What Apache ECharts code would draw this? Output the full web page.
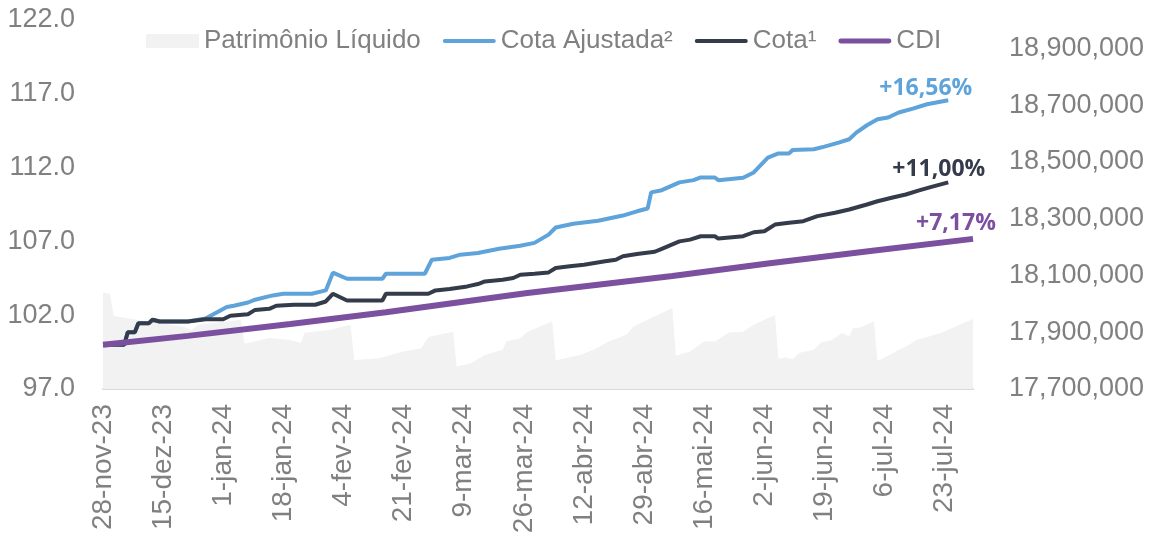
<!DOCTYPE html>
<html>
<head>
<meta charset="utf-8">
<script src="https://cdn.jsdelivr.net/npm/echarts@6/dist/echarts.min.js"></script>
<style>
  html, body { margin: 0; padding: 0; background: #fff; }
  #chart { width: 1154px; height: 539px; }
</style>
</head>
<body>
<div id="chart"></div>
<script>
// eixo X: datas rotuladas
const xTickDates = ['2023-11-28', '2023-12-15', '2024-01-01', '2024-01-18', '2024-02-04', '2024-02-21',
  '2024-03-09', '2024-03-26', '2024-04-12', '2024-04-29', '2024-05-16', '2024-06-02', '2024-06-19',
  '2024-07-06', '2024-07-23']
const leftTicks = [97, 102, 107, 112, 117, 122]
const rightTicks = [17700000, 17900000, 18100000, 18300000, 18500000, 18700000, 18900000]

// Cota¹
const cotaDates = ['2023-11-28', '2023-12-04', '2023-12-05', '2023-12-07', '2023-12-08', '2023-12-11',
  '2023-12-12', '2023-12-14', '2023-12-22', '2023-12-27', '2024-01-01', '2024-01-03', '2024-01-08',
  '2024-01-10', '2024-01-14', '2024-01-16', '2024-01-21', '2024-01-27', '2024-01-30', '2024-02-01',
  '2024-02-05', '2024-02-15', '2024-02-16', '2024-02-28', '2024-03-01', '2024-03-05', '2024-03-10',
  '2024-03-13', '2024-03-15', '2024-03-20', '2024-03-23', '2024-03-25', '2024-03-29', '2024-04-02',
  '2024-04-04', '2024-04-08', '2024-04-12', '2024-04-18', '2024-04-21', '2024-04-23', '2024-04-27',
  '2024-05-02', '2024-05-04', '2024-05-09', '2024-05-12', '2024-05-15', '2024-05-19', '2024-05-20',
  '2024-05-27', '2024-05-30', '2024-06-02', '2024-06-05', '2024-06-09', '2024-06-13', '2024-06-17',
  '2024-06-22', '2024-06-26', '2024-07-01', '2024-07-04', '2024-07-08', '2024-07-12', '2024-07-16',
  '2024-07-19', '2024-07-24']
const cotaValues = [100.0, 100.0, 100.85, 100.85, 101.46, 101.46,
  101.69, 101.57, 101.57, 101.73, 101.73, 101.96, 102.07,
  102.36, 102.43, 102.64, 102.71, 102.71, 102.93, 103.45,
  103.0, 103.0, 103.45, 103.45, 103.68, 103.77, 103.95,
  104.11, 104.29, 104.4, 104.52, 104.74, 104.81, 104.9,
  105.2, 105.31, 105.42, 105.65, 105.76, 105.99, 106.15,
  106.3, 106.5, 107.0, 107.12, 107.35, 107.35, 107.19,
  107.35, 107.62, 107.69, 108.14, 108.26, 108.37, 108.71,
  108.94, 109.16, 109.5, 109.72, 109.96, 110.18, 110.47,
  110.68, 111.0]

// Cota Ajustada²
const ajustDates = ['2023-11-28', '2023-12-04', '2023-12-05', '2023-12-07', '2023-12-08', '2023-12-11',
  '2023-12-12', '2023-12-14', '2023-12-22', '2023-12-27', '2024-01-02', '2024-01-04', '2024-01-08',
  '2024-01-10', '2024-01-15', '2024-01-18', '2024-01-26', '2024-01-30', '2024-02-01', '2024-02-05',
  '2024-02-15', '2024-02-16', '2024-02-27', '2024-02-29', '2024-03-05', '2024-03-08', '2024-03-13',
  '2024-03-19', '2024-03-25', '2024-03-29', '2024-04-02', '2024-04-04', '2024-04-09', '2024-04-16',
  '2024-04-23', '2024-04-27', '2024-04-30', '2024-05-01', '2024-05-04', '2024-05-09', '2024-05-13',
  '2024-05-15', '2024-05-19', '2024-05-20', '2024-05-27', '2024-05-30', '2024-06-03', '2024-06-06',
  '2024-06-09', '2024-06-10', '2024-06-16', '2024-06-19', '2024-06-23', '2024-06-26', '2024-06-28',
  '2024-07-01', '2024-07-04', '2024-07-07', '2024-07-10', '2024-07-14', '2024-07-18', '2024-07-24']
const ajustValues = [100.0, 100.0, 100.85, 100.85, 101.46, 101.46,
  101.69, 101.57, 101.57, 101.78, 102.55, 102.64, 102.86,
  103.05, 103.34, 103.45, 103.45, 103.68, 104.88, 104.47,
  104.47, 104.81, 104.81, 105.76, 105.88, 106.1, 106.22,
  106.5, 106.7, 106.9, 107.46, 107.94, 108.2, 108.4,
  108.75, 109.04, 109.23, 110.32, 110.47, 111.0, 111.15,
  111.33, 111.33, 111.15, 111.31, 111.67, 112.67, 112.96,
  112.96, 113.19, 113.24, 113.42, 113.69, 113.92, 114.37,
  114.87, 115.27, 115.39, 115.73, 116.0, 116.29, 116.56]

// CDI
const cdiDates = ['2023-11-28', '2023-12-22', '2024-01-20', '2024-02-16', '2024-03-27', '2024-05-07',
  '2024-06-03', '2024-07-02', '2024-07-31']
const cdiValues = [100.0, 100.6, 101.4, 102.2, 103.5, 104.65, 105.5, 106.35, 107.17]

// Patrimônio Líquido (eixo direito)
const plDates = ['2023-11-28', '2023-11-30', '2023-12-01', '2023-12-04', '2023-12-11', '2023-12-21',
  '2023-12-23', '2023-12-25', '2024-01-06', '2024-01-07', '2024-01-14', '2024-01-20', '2024-01-23',
  '2024-01-24', '2024-01-31', '2024-02-06', '2024-02-07', '2024-02-14', '2024-02-21', '2024-02-26',
  '2024-02-28', '2024-03-06', '2024-03-07', '2024-03-11', '2024-03-15', '2024-03-20', '2024-03-21',
  '2024-03-25', '2024-03-27', '2024-04-03', '2024-04-04', '2024-04-11', '2024-04-15', '2024-04-19',
  '2024-04-24', '2024-04-26', '2024-05-01', '2024-05-07', '2024-05-08', '2024-05-12', '2024-05-16',
  '2024-05-19', '2024-05-23', '2024-05-27', '2024-05-30', '2024-06-05', '2024-06-06', '2024-06-08',
  '2024-06-10', '2024-06-12', '2024-06-16', '2024-06-18', '2024-06-21', '2024-06-24', '2024-06-26',
  '2024-06-27', '2024-06-29', '2024-07-03', '2024-07-04', '2024-07-07', '2024-07-10', '2024-07-12',
  '2024-07-15', '2024-07-22', '2024-07-26', '2024-07-31']
const plValues = [18039000, 18036000, 17958000, 17951000, 17937000, 17919000,
  17908000, 17926000, 17944000, 17859000, 17880000, 17873000, 17862000,
  17898000, 17908000, 17926000, 17802000, 17808000, 17832000, 17844000,
  17883000, 17902000, 17779000, 17791000, 17820000, 17838000, 17867000,
  17879000, 17902000, 17938000, 17801000, 17820000, 17840000, 17867000,
  17891000, 17920000, 17950000, 17985000, 17817000, 17832000, 17867000,
  17867000, 17899000, 17902000, 17926000, 17961000, 17806000, 17812000,
  17805000, 17828000, 17838000, 17864000, 17873000, 17897000, 17885000,
  17914000, 17917000, 17938000, 17799000, 17817000, 17838000, 17849000,
  17873000, 17897000, 17920000, 17947000]

const meses = ['jan', 'fev', 'mar', 'abr', 'mai', 'jun', 'jul', 'ago', 'set', 'out', 'nov', 'dez']
// 'AAAA-MM-DD' -> timestamp local
const ts = (s) => {
  const p = s.split('-').map(Number)
  return new Date(p[0], p[1] - 1, p[2]).getTime()
}
const pairs = (dates, vals) => dates.map((d, i) => [ts(d), vals[i]])
const retorno = (vals) => '+' + ((vals[vals.length - 1] / 100 - 1) * 100).toFixed(2).replace('.', ',') + '%'

const cinza = '#808080'
const fonte = '"Liberation Sans", Arial, sans-serif'
const fonteRotulo = '"Open Sans", sans-serif'

// ícones da legenda: traço arredondado para as linhas
const traco = 'path://M2,0 h50 a2,2 0 0 1 0,4 h-50 a2,2 0 0 1 0,-4 z'
const tracoGrosso = 'path://M2.5,0 h49 a2.5,2.5 0 0 1 0,5 h-49 a2.5,2.5 0 0 1 0,-5 z'

const chart = echarts.init(document.getElementById('chart'))

chart.setOption({
  animation: false,
  textStyle: { fontFamily: fonte },
  grid: { left: 103, right: 181, top: 20, bottom: 150, containLabel: false },
  legend: {
    top: 23,
    left: 141,
    itemWidth: 53,
    itemHeight: 14,
    itemGap: 22,
    symbolKeepAspect: true,
    textStyle: { color: cinza, fontSize: 26, fontFamily: fonte },
    data: [
      { name: 'Patrimônio Líquido', icon: 'rect' },
      { name: 'Cota Ajustada²', icon: traco },
      { name: 'Cota¹', icon: traco },
      { name: 'CDI', icon: tracoGrosso }
    ]
  },
  // eixo de datas como valor (timestamp) para poder fixar os rótulos
  xAxis: {
    type: 'value',
    min: ts('2023-11-28'),
    max: ts('2024-07-31'),
    axisLine: { show: true, onZero: false, lineStyle: { color: '#d9d9d9', width: 2 } },
    axisTick: { show: false },
    splitLine: { show: false },
    axisLabel: {
      rotate: 90,
      margin: 15,
      color: cinza,
      fontSize: 28,
      fontFamily: fonte,
      customValues: xTickDates.map(ts),
      formatter: (v) => {
        const d = new Date(v)
        return d.getDate() + '-' + meses[d.getMonth()] + '-' + String(d.getFullYear()).slice(2)
      }
    }
  },
  yAxis: [
    {
      type: 'value',
      min: 97,
      max: 122,
      axisLine: { show: false },
      axisTick: { show: false },
      splitLine: { show: false },
      axisLabel: {
        color: cinza,
        fontSize: 27,
        margin: 28,
        fontFamily: fonte,
        customValues: leftTicks,
        formatter: (v) => v.toFixed(1)
      }
    },
    {
      type: 'value',
      min: 17700000,
      max: 19000000,
      axisLine: { show: false },
      axisTick: { show: false },
      splitLine: { show: false },
      axisLabel: {
        color: cinza,
        fontSize: 27,
        margin: 36,
        fontFamily: fonte,
        customValues: rightTicks,
        formatter: (v) => v.toLocaleString('en-US')
      }
    }
  ],
  series: [
    {
      name: 'Patrimônio Líquido',
      type: 'line',
      yAxisIndex: 1,
      symbol: 'none',
      lineStyle: { width: 0, color: '#f2f2f2' },
      itemStyle: { color: '#f2f2f2' },
      areaStyle: { color: '#f2f2f2', opacity: 1 },
      data: pairs(plDates, plValues)
    },
    {
      name: 'Cota Ajustada²',
      type: 'line',
      symbol: 'none',
      lineStyle: { width: 4, color: '#5ea3da' },
      itemStyle: { color: '#5ea3da' },
      endLabel: {
        show: true,
        formatter: () => retorno(ajustValues),
        color: '#5ea3da',
        fontFamily: fonteRotulo,
        fontWeight: 'bold',
        fontSize: 23,
        offset: [-77, -12]
      },
      data: pairs(ajustDates, ajustValues)
    },
    {
      name: 'Cota¹',
      type: 'line',
      symbol: 'none',
      lineStyle: { width: 4, color: '#343b4a' },
      itemStyle: { color: '#343b4a' },
      endLabel: {
        show: true,
        formatter: () => retorno(cotaValues),
        color: '#343b4a',
        fontFamily: fonteRotulo,
        fontWeight: 'bold',
        fontSize: 23,
        offset: [-64, -13]
      },
      data: pairs(cotaDates, cotaValues)
    },
    {
      name: 'CDI',
      type: 'line',
      symbol: 'none',
      lineStyle: { width: 6, color: '#7b509f' },
      itemStyle: { color: '#7b509f' },
      endLabel: {
        show: true,
        formatter: () => retorno(cdiValues),
        color: '#7b509f',
        fontFamily: fonteRotulo,
        fontWeight: 'bold',
        fontSize: 23,
        offset: [-65, -15]
      },
      data: pairs(cdiDates, cdiValues)
    }
  ]
})
</script>
</body>
</html>
